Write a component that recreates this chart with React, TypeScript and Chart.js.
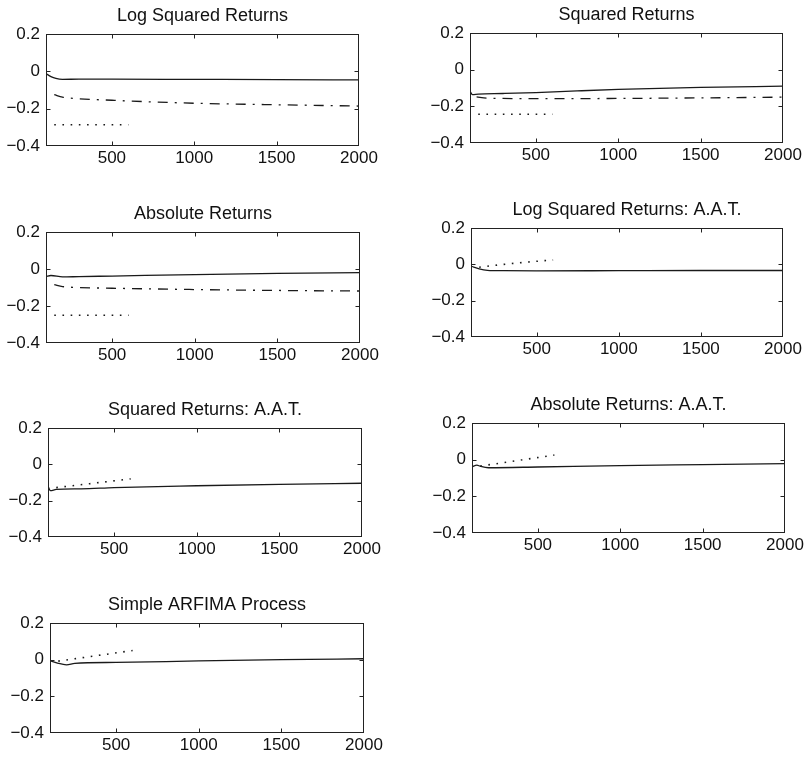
import React, { useEffect, useRef } from "react";
import Chart from "chart.js/auto";

// ---------- DATA ----------
const xTickValues = [500, 1000, 1500, 2000];
const yTickValues = [-0.4, -0.2, 0, 0.2];
const xMin = 100;
const xMax = 2000;
const yMin = -0.4;
const yMax = 0.2;

const titles = [
  "Log Squared Returns",
  "Squared Returns",
  "Absolute Returns",
  "Log Squared Returns: A.A.T.",
  "Squared Returns: A.A.T.",
  "Absolute Returns: A.A.T.",
  "Simple ARFIMA Process",
];

// Panel 1: Log Squared Returns
const p1SolidX = [100, 130, 160, 200, 300, 500, 1000, 1500, 2000];
const p1SolidY = [-0.012, -0.028, -0.038, -0.043, -0.042, -0.042, -0.043, -0.044, -0.046];
const p1DashDotX = [150, 200, 300, 500, 750, 1000, 1500, 2000];
const p1DashDotY = [-0.125, -0.138, -0.147, -0.155, -0.164, -0.171, -0.179, -0.186];
const p1DotX = [150, 600];
const p1DotY = [-0.286, -0.286];

// Panel 2: Squared Returns
const p2SolidX = [100, 115, 150, 300, 500, 750, 1000, 1500, 2000];
const p2SolidY = [-0.118, -0.136, -0.133, -0.13, -0.125, -0.116, -0.108, -0.097, -0.09];
const p2DashDotX = [140, 200, 500, 1000, 1500, 2000];
const p2DashDotY = [-0.148, -0.155, -0.158, -0.157, -0.154, -0.15];
const p2DotX = [150, 600];
const p2DotY = [-0.243, -0.243];

// Panel 3: Absolute Returns
const p3SolidX = [100, 130, 200, 300, 500, 1000, 1500, 2000];
const p3SolidY = [-0.04, -0.035, -0.043, -0.041, -0.038, -0.03, -0.024, -0.02];
const p3DashDotX = [150, 200, 300, 500, 1000, 1500, 2000];
const p3DashDotY = [-0.085, -0.095, -0.1, -0.104, -0.111, -0.116, -0.119];
const p3DotX = [150, 600];
const p3DotY = [-0.25, -0.25];

// Panel 4: Log Squared Returns: A.A.T.
const p4SolidX = [100, 150, 200, 300, 500, 1000, 1500, 2000];
const p4SolidY = [-0.01, -0.025, -0.033, -0.035, -0.036, -0.035, -0.034, -0.034];
const p4DotX = [150, 300, 450, 600];
const p4DotY = [-0.016, 0.0, 0.013, 0.024];

// Panel 5: Squared Returns: A.A.T.
const p5SolidX = [100, 115, 150, 300, 500, 1000, 1500, 2000];
const p5SolidY = [-0.12, -0.145, -0.138, -0.135, -0.128, -0.118, -0.11, -0.104];
const p5DotX = [150, 600];
const p5DotY = [-0.128, -0.08];

// Panel 6: Absolute Returns: A.A.T.
const p6SolidX = [100, 130, 150, 200, 500, 1000, 1500, 2000];
const p6SolidY = [-0.038, -0.03, -0.036, -0.044, -0.04, -0.032, -0.027, -0.022];
const p6DotX = [150, 600];
const p6DotY = [-0.035, 0.025];

// Panel 7: Simple ARFIMA Process
const p7SolidX = [100, 150, 200, 250, 500, 1000, 1500, 2000];
const p7SolidY = [-0.005, -0.02, -0.028, -0.02, -0.015, -0.007, 0.0, 0.005];
const p7DotX = [150, 600];
const p7DotY = [-0.008, 0.05];

// ---------- STYLE / LAYOUT ----------
const FONT = "'Liberation Sans', Arial, Helvetica, sans-serif";
const INK = "#1a1a1a";
const Y_AXIS_W = 52;
const X_AXIS_H = 28;
const TITLE_H = 39;

type Box = { L: number; T: number; R: number; B: number };
const boxes: Box[] = [
  { L: 46, T: 34, R: 359, B: 146 },
  { L: 470, T: 33, R: 783, B: 143 },
  { L: 46, T: 232, R: 360, B: 343 },
  { L: 471, T: 228, R: 783, B: 337 },
  { L: 48, T: 428, R: 362, B: 537 },
  { L: 472, T: 423, R: 785, B: 533 },
  { L: 50, T: 623, R: 364, B: 733 },
];

const pts = (xs: number[], ys: number[]) => xs.map((x, i) => ({ x, y: ys[i] }));

const solid = (xs: number[], ys: number[]) => ({
  data: pts(xs, ys),
  borderColor: INK,
  borderWidth: 1.3,
  pointRadius: 0,
  cubicInterpolationMode: "monotone" as const,
});
const dashDot = (xs: number[], ys: number[]) => ({
  data: pts(xs, ys),
  borderColor: INK,
  borderWidth: 1.3,
  borderDash: [10, 7, 2, 7],
  pointRadius: 0,
  cubicInterpolationMode: "monotone" as const,
});
const dotted = (xs: number[], ys: number[]) => ({
  data: pts(xs, ys),
  borderColor: INK,
  borderWidth: 1.6,
  borderDash: [1.6, 6.6],
  pointRadius: 0,
  cubicInterpolationMode: "monotone" as const,
});

const panelDatasets = [
  [solid(p1SolidX, p1SolidY), dashDot(p1DashDotX, p1DashDotY), dotted(p1DotX, p1DotY)],
  [solid(p2SolidX, p2SolidY), dashDot(p2DashDotX, p2DashDotY), dotted(p2DotX, p2DotY)],
  [solid(p3SolidX, p3SolidY), dashDot(p3DashDotX, p3DashDotY), dotted(p3DotX, p3DotY)],
  [solid(p4SolidX, p4SolidY), dotted(p4DotX, p4DotY)],
  [solid(p5SolidX, p5SolidY), dotted(p5DotX, p5DotY)],
  [solid(p6SolidX, p6SolidY), dotted(p6DotX, p6DotY)],
  [solid(p7SolidX, p7SolidY), dotted(p7DotX, p7DotY)],
];

const boxPlugin = {
  id: "matlabBox",
  afterDraw(chart: any) {
    const { ctx, chartArea: a, scales } = chart;
    const xs = scales.x;
    const ys = scales.y;
    ctx.save();
    ctx.strokeStyle = "#222";
    ctx.lineWidth = 1;
    const l = Math.round(a.left) + 0.5;
    const t = Math.round(a.top) + 0.5;
    const r = Math.round(a.right) - 0.5;
    const b = Math.round(a.bottom) - 0.5;
    ctx.strokeRect(l, t, r - l, b - t);
    const tl = 4;
    ctx.beginPath();
    xTickValues.forEach((v) => {
      if (v <= xMin || v >= xMax) return;
      const px = Math.round(xs.getPixelForValue(v)) + 0.5;
      ctx.moveTo(px, b);
      ctx.lineTo(px, b - tl);
      ctx.moveTo(px, t);
      ctx.lineTo(px, t + tl);
    });
    yTickValues.forEach((v) => {
      if (v <= yMin || v >= yMax) return;
      const py = Math.round(ys.getPixelForValue(v)) + 0.5;
      ctx.moveTo(l, py);
      ctx.lineTo(l + tl, py);
      ctx.moveTo(r, py);
      ctx.lineTo(r - tl, py);
    });
    ctx.stroke();
    ctx.restore();
  },
};

const fmtY = (v: number) => {
  if (Math.abs(v) < 1e-9) return "0";
  return (v < 0 ? "\u2212" : "") + Math.abs(v).toFixed(1);
};

function Panel({ title, box, datasets }: { title: string; box: Box; datasets: any[] }) {
  const ref = useRef<HTMLCanvasElement | null>(null);
  const left = box.L - Y_AXIS_W;
  const top = box.T - TITLE_H;
  const width = box.R - box.L + 2 * Y_AXIS_W;
  const height = box.B - box.T + TITLE_H + X_AXIS_H;

  useEffect(() => {
    if (!ref.current) return;
    const chart = new Chart(ref.current, {
      type: "line",
      data: { datasets },
      plugins: [boxPlugin],
      options: {
        animation: false,
        responsive: false,
        devicePixelRatio: 1,
        layout: { padding: 0 },
        plugins: {
          legend: { display: false },
          tooltip: { enabled: false },
          title: {
            display: true,
            text: title,
            color: "#111",
            font: { family: FONT, size: 18, weight: "normal", lineHeight: 1.1 },
            padding: { top: 11, bottom: 8.2 },
          },
        },
        scales: {
          x: {
            type: "linear",
            min: xMin,
            max: xMax,
            afterBuildTicks: (s: any) => {
              s.ticks = xTickValues.map((v) => ({ value: v }));
            },
            afterFit: (s: any) => {
              s.height = X_AXIS_H;
            },
            grid: { display: false, drawTicks: false },
            border: { display: false },
            ticks: {
              color: "#111",
              font: { family: FONT, size: 17 },
              padding: 2,
              maxRotation: 0,
              autoSkip: false,
              callback: (v: any) => String(v),
            },
          },
          y: {
            type: "linear",
            position: "left",
            min: yMin,
            max: yMax,
            afterBuildTicks: (s: any) => {
              s.ticks = yTickValues.map((v) => ({ value: v }));
            },
            afterFit: (s: any) => {
              s.width = Y_AXIS_W;
            },
            grid: { display: false, drawTicks: false },
            border: { display: false },
            ticks: {
              color: "#111",
              font: { family: FONT, size: 17 },
              padding: 6,
              autoSkip: false,
              callback: (v: any) => fmtY(Number(v)),
            },
          },
          yRight: {
            type: "linear",
            position: "right",
            min: yMin,
            max: yMax,
            afterFit: (s: any) => {
              s.width = Y_AXIS_W;
            },
            grid: { display: false, drawTicks: false },
            border: { display: false },
            ticks: { display: false },
          },
        },
      } as any,
    });
    return () => chart.destroy();
  }, []);

  return (
    <canvas
      ref={ref}
      width={width}
      height={height}
      style={{ position: "absolute", left, top, width, height }}
    />
  );
}

export default function App() {
  return (
    <div style={{ position: "absolute", left: 0, top: 0, width: 811, height: 763, background: "#fff" }}>
      {titles.map((t, i) => (
        <Panel key={i} title={t} box={boxes[i]} datasets={panelDatasets[i]} />
      ))}
    </div>
  );
}
